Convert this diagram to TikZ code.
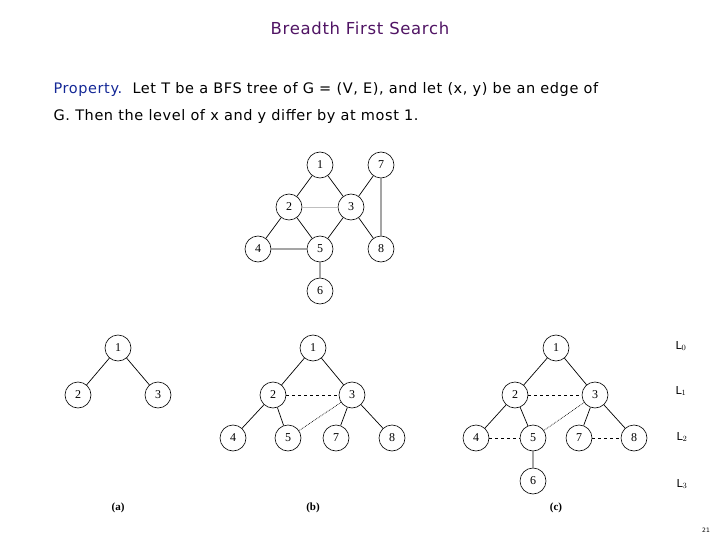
\documentclass[tikz,border=0pt]{standalone}
\usepackage{fontspec}
\setmainfont{DejaVu Sans}[LetterSpace=4]
\newfontfamily\nodefont{Liberation Serif}
\definecolor{ttl}{RGB}{80,20,100}
\definecolor{prop}{RGB}{20,40,150}
\begin{document}
\begin{tikzpicture}[x=1pt,y=-1pt,line width=0.7pt,
  vx/.style={circle,draw,line width=0.6pt,minimum size=26pt,inner sep=0pt,font=\nodefont\fontsize{12}{12}\selectfont},
  nt/.style={draw,dashed},
  captext/.style={font=\nodefont\bfseries\fontsize{11}{11}\selectfont}]
\useasboundingbox (0,0) rectangle (720,540);
\node[text=ttl,font=\fontsize{16.5}{16}\selectfont] (title) at (360,28) {Breadth First Search};
\node[anchor=west,align=left,font=\fontsize{14.5}{27}\selectfont] (txt) at (50,103)
 {\textcolor{prop}{Property.}\ \ Let T be a BFS tree of G = (V, E), and let (x, y) be an edge of\\G. Then the level of x and y differ by at most 1.};
% top graph
\node[vx] (t1) at (320,165) {1}; \node[vx] (t7) at (381,165) {7};
\node[vx] (t2) at (289,207) {2}; \node[vx] (t3) at (351,207) {3};
\node[vx] (t4) at (258,249) {4}; \node[vx] (t5) at (320,249) {5};
\node[vx] (t8) at (381,249) {8}; \node[vx] (t6) at (320,291) {6};
\draw (t1)--(t2) (t1)--(t3) (t2)--(t4) (t2)--(t5) (t3)--(t5) (t3)--(t7) (t3)--(t8) (t7)--(t8) (t4)--(t5) (t5)--(t6);
\draw[gray!50] (t2)--(t3);
% (a)
\node[vx] (a1) at (118,348) {1}; \node[vx] (a2) at (78,395) {2}; \node[vx] (a3) at (158,395) {3};
\draw (a1)--(a2) (a1)--(a3);
% (b)
\node[vx] (b1) at (313,348) {1}; \node[vx] (b2) at (273,395) {2}; \node[vx] (b3) at (352,395) {3};
\node[vx] (b4) at (233,438) {4}; \node[vx] (b5) at (288,438) {5}; \node[vx] (b7) at (336,438) {7}; \node[vx] (b8) at (392,438) {8};
\draw (b1)--(b2) (b1)--(b3) (b2)--(b4) (b2)--(b5) (b3)--(b7) (b3)--(b8);
\draw[nt] (b2)--(b3); \draw[densely dotted] (b3)--(b5);
% (c)
\node[vx] (c1) at (556,348) {1}; \node[vx] (c2) at (515,395) {2}; \node[vx] (c3) at (595,395) {3};
\node[vx] (c4) at (476,438) {4}; \node[vx] (c5) at (533,438) {5}; \node[vx] (c7) at (579,438) {7}; \node[vx] (c8) at (634,438) {8};
\node[vx] (c6) at (533,481) {6};
\draw (c1)--(c2) (c1)--(c3) (c2)--(c4) (c2)--(c5) (c3)--(c7) (c3)--(c8) (c5)--(c6);
\draw[nt] (c2)--(c3) (c4)--(c5) (c7)--(c8); \draw[densely dotted] (c3)--(c5);
% levels
\node[font=\fontsize{11}{11}\selectfont] (L0) at (681,346) {L$_0$};
\node[font=\fontsize{11}{11}\selectfont] (L1) at (681,391) {L$_1$};
\node[font=\fontsize{11}{11}\selectfont] (L2) at (682,437) {L$_2$};
\node[font=\fontsize{11}{11}\selectfont] (L3) at (682,484) {L$_3$};
\node[captext] (ca) at (118,508) {(a)}; \node[captext] (cb) at (313,508) {(b)}; \node[captext] (cc) at (556,508) {(c)};
\node[font=\fontsize{6}{6}\selectfont] (pg) at (706,530) {21};
\end{tikzpicture}
\end{document}
